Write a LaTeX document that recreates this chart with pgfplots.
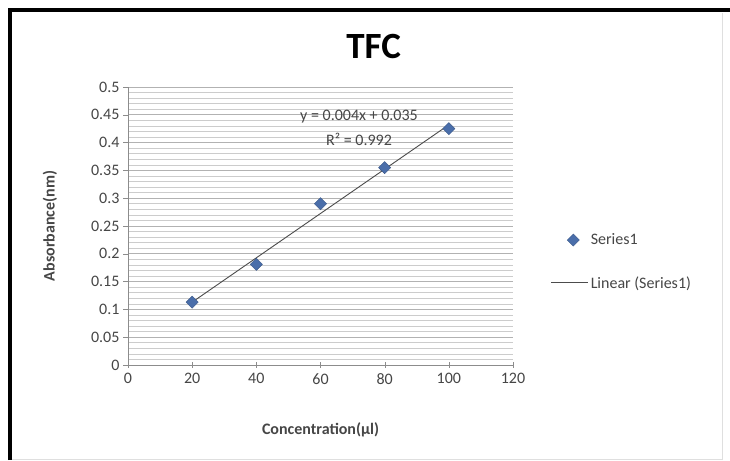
\documentclass[border=0pt]{standalone}
\usepackage{fontspec}
\setmainfont{Carlito}
\usepackage{pgfplots}
\pgfplotsset{compat=1.18}

\definecolor{serblue}{RGB}{74,110,170}
\definecolor{txtgray}{RGB}{70,70,70}
\definecolor{axgray}{RGB}{140,140,140}

\pgfplotsset{
    markleg/.style={legend image code/.code={
        \path[draw=none] (0pt,0pt) -- (37pt,0pt);
        \path[##1, draw=none] plot[only marks] coordinates {(22pt,0pt)};}},
    lineleg/.style={legend image code/.code={
        \draw[##1] (0pt,0pt) -- (37pt,0pt);}},
}

\begin{document}
\begin{tikzpicture}
\path[use as bounding box, fill=white] (0pt,0pt) rectangle (730pt,460pt);
% chart frame
\draw[line width=4pt] (10pt,0pt) -- (10pt,449.5pt) -- (730pt,449.5pt);
\draw[gray!25] (722pt,0pt) -- (722pt,447pt);
\draw[gray!25] (12pt,1pt) -- (722pt,1pt);

\begin{axis}[
    at={(128pt,95pt)}, anchor=south west,
    scale only axis,
    width=385pt, height=278pt,
    xmin=0, xmax=120, ymin=0, ymax=0.5,
    xtick={0,20,...,120},
    ytick={0,0.05,0.1,0.15,0.2,0.25,0.3,0.35,0.4,0.45,0.5},
    minor y tick num=4,
    axis x line=bottom, axis y line=left,
    axis line style={axgray, -},
    tick align=outside,
    major tick length=5pt, minor tick length=0pt,
    ytick style={axgray},
    xtick style={axgray, yshift=2.5pt},
    ymajorgrids, yminorgrids,
    major grid style={gray!60, line width=0.8pt},
    minor grid style={gray!40, line width=0.6pt},
    /pgf/number format/assume math mode=true,
    /pgf/number format/fixed, /pgf/number format/precision=2,
    tick label style={font=\fontsize{16}{18}\selectfont, text=txtgray},
    title={TFC},
    title style={font=\bfseries\fontsize{37}{40}\selectfont, text=black,
        at={(axis description cs:0.638,1.125)}, anchor=center},
    xlabel={Concentration(µl)},
    ylabel={Absorbance(nm)},
    label style={font=\bfseries\fontsize{16}{18}\selectfont, text=txtgray},
    xlabel style={at={(axis description cs:0.5,-0.234)}, anchor=center},
    ylabel style={at={(axis description cs:-0.203,0.5)}, anchor=center},
    legend style={draw=none, fill=none, at={(axis description cs:1.09,0.487)},
        anchor=north west, font=\fontsize{16}{18}\selectfont, text=txtgray,
        row sep=26pt, nodes={anchor=west}},
    legend cell align=left,
]
\addplot[only marks, mark=square*, mark size=4.3pt,
    mark options={rotate=45, fill=serblue, draw=serblue!80!black}, markleg]
coordinates {
    (20,0.113) (40,0.181) (60,0.290) (80,0.355) (100,0.425)
};
\addlegendentry{Series1}

\addplot[color=black!70, line width=0.9pt, mark=none, lineleg]
coordinates {(20,0.113) (100,0.432)};
\addlegendentry{Linear (Series1)}

\node[font=\fontsize{16}{18}\selectfont, text=txtgray, inner sep=0pt]
    at (axis cs:72,0.446) {y = 0.004x + 0.035};
\node[font=\fontsize{16}{18}\selectfont, text=txtgray, inner sep=0pt]
    at (axis cs:72,0.406) {R² = 0.992};
\end{axis}
\end{tikzpicture}
\end{document}
